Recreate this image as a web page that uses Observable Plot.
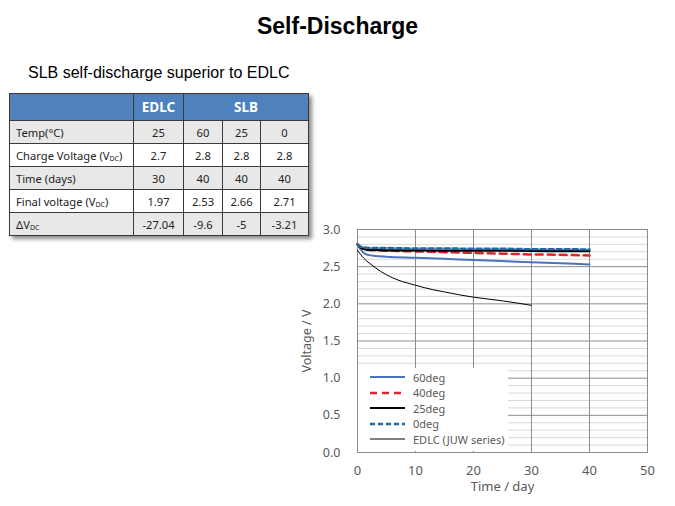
<!DOCTYPE html>
<html>
<head>
<meta charset="utf-8">
<script src="https://cdn.jsdelivr.net/npm/d3@7"></script>
<script src="https://cdn.jsdelivr.net/npm/@observablehq/plot@0.6"></script>
<style>
  html, body { margin: 0; padding: 0; background: #fff; }
  #slide { position: relative; width: 675px; height: 506px; overflow: hidden; font-family: "Liberation Sans", Arial, sans-serif; }
  #title { position: absolute; left: 0; width: 675px; top: 13px; text-align: center; font-weight: bold; font-size: 23px; color: #000; }
  #subtitle { position: absolute; left: 28px; top: 64px; font-size: 16px; color: #000; }
  #tbl { position: absolute; left: 9px; top: 93px; border-collapse: collapse; font-family: "Noto Sans", sans-serif; font-size: 11.2px; color: #222; box-shadow: 3px 3px 4px rgba(0,0,0,0.45); }
  #tbl td, #tbl th { border: 1px solid #3a3a3a; padding: 0; }
  #tbl th { background: #4f81bd; color: #fff; font-weight: bold; font-size: 13.5px; height: 26px; }
  #tbl td { height: 22px; text-align: center; }
  #tbl td.lbl { text-align: left; padding-left: 6px; }
  #tbl tr.g td { background: #e8e8e8; }
  #tbl tr.w td { background: #fff; }
  #tbl sub { font-size: 7px; vertical-align: -1px; }
  #chart { position: absolute; left: 290px; top: 215px; }
  #legend { position: absolute; left: 358px; top: 368px; width: 150px; height: 83px; background: #fff; font-family: "Noto Sans", sans-serif; font-size: 11px; color: #595959; }
  .li { position: absolute; left: 0; height: 14px; display: flex; align-items: center; }
  .li svg { margin-left: 12px; margin-right: 8px; }
</style>
</head>
<body>
<div id="slide">
  <div id="title">Self-Discharge</div>
  <div id="subtitle">SLB self-discharge superior to EDLC</div>
  <table id="tbl"></table>
  <div id="chart"></div>
  <div id="legend"></div>
</div>
<script>
// ---- table data ----
const tableGroups = [["", 1], ["EDLC", 1], ["SLB", 3]];
const rowLabels = ["Temp(°C)", "Charge Voltage (V<sub>DC</sub>)", "Time (days)", "Final voltage (V<sub>DC</sub>)", "ΔV<sub>DC</sub>"];
const rowValues = [
  ["25", "60", "25", "0"],
  ["2.7", "2.8", "2.8", "2.8"],
  ["30", "40", "40", "40"],
  ["1.97", "2.53", "2.66", "2.71"],
  ["-27.04", "-9.6", "-5", "-3.21"]
];
const colWidths = [124, 50, 39, 38, 48];

// ---- chart data ----
const tSLB = [0, 0.5, 1, 1.5, 2, 3, 5, 10, 15, 20, 25, 30, 35, 40];
const v60 = [2.80, 2.74, 2.69, 2.665, 2.655, 2.645, 2.635, 2.62, 2.605, 2.59, 2.575, 2.56, 2.545, 2.53];
const v40 = [2.80, 2.76, 2.74, 2.73, 2.725, 2.72, 2.715, 2.705, 2.695, 2.685, 2.675, 2.665, 2.66, 2.65];
const v25 = [2.80, 2.76, 2.74, 2.73, 2.725, 2.725, 2.72, 2.72, 2.715, 2.715, 2.715, 2.712, 2.71, 2.71];
const v0 = [2.80, 2.77, 2.76, 2.755, 2.75, 2.75, 2.75, 2.745, 2.745, 2.74, 2.74, 2.735, 2.735, 2.73];
const tEDLC = [0, 1, 2, 3, 5, 7, 10, 13, 15, 18, 20, 25, 30];
const vEDLC = [2.72, 2.62, 2.55, 2.49, 2.39, 2.32, 2.25, 2.19, 2.16, 2.115, 2.09, 2.04, 1.98];

const seriesNames = ["60deg", "40deg", "25deg", "0deg", "EDLC (JUW series)"];
const xTicks = [0, 10, 20, 30, 40, 50];
const yMajor = [0, 0.5, 1.0, 1.5, 2.0, 2.5, 3.0];
const yMinor = [0.1, 0.2, 0.3, 0.4, 0.6, 0.7, 0.8, 0.9, 1.1, 1.2, 1.3, 1.4, 1.6, 1.7, 1.8, 1.9, 2.1, 2.2, 2.3, 2.4, 2.6, 2.7, 2.8, 2.9];

const styles = {
  "60deg": {stroke: "#4a72bd", width: 2, dash: null},
  "40deg": {stroke: "#d62a2a", width: 2.5, dash: "7,5"},
  "25deg": {stroke: "#000000", width: 2.2, dash: null},
  "0deg": {stroke: "#1f6aa5", width: 2.5, dash: "5,3"},
  "EDLC (JUW series)": {stroke: "#000000", width: 1, dash: null}
};

// build table
const tbl = document.getElementById("tbl");
let html = "<colgroup>" + colWidths.map(w => `<col style="width:${w}px">`).join("") + "</colgroup>";
html += "<tr>" + tableGroups.map(([n, s]) => `<th colspan="${s}">${n}</th>`).join("") + "</tr>";
rowLabels.forEach((lab, i) => {
  html += `<tr class="${i % 2 === 0 ? "g" : "w"}"><td class="lbl">${lab}</td>` + rowValues[i].map(v => `<td>${v}</td>`).join("") + "</tr>";
});
tbl.innerHTML = html;

// build chart
const rows = [];
const addSeries = (name, ts, vs) => ts.forEach((t, i) => rows.push({series: name, t, v: vs[i]}));
addSeries("60deg", tSLB, v60);
addSeries("40deg", tSLB, v40);
addSeries("25deg", tSLB, v25);
addSeries("0deg", tSLB, v0);
addSeries("EDLC (JUW series)", tEDLC, vEDLC);

const lineMarks = seriesNames.map(name => Plot.line(rows.filter(d => d.series === name), {
  x: "t", y: "v", stroke: styles[name].stroke, strokeWidth: styles[name].width,
  strokeDasharray: styles[name].dash, curve: "monotone-x"
}));

const chart = Plot.plot({
  width: 375, height: 290,
  marginLeft: 67, marginRight: 18, marginTop: 14, marginBottom: 53,
  style: {fontFamily: "Noto Sans, sans-serif", fontSize: "12.5px", color: "#595959", background: "transparent"},
  x: {domain: [0, 50]},
  y: {domain: [0, 3]},
  marks: [
    Plot.ruleY(yMinor, {stroke: "#d9d9d9", strokeWidth: 1}),
    Plot.ruleY(yMajor, {stroke: "#8c8c8c", strokeWidth: 1}),
    Plot.ruleX(xTicks, {stroke: "#8c8c8c", strokeWidth: 1}),
    Plot.frame({stroke: "#8c8c8c"}),
    Plot.axisX({ticks: xTicks, tickSize: 0, tickPadding: 13, label: "Time / day", labelAnchor: "center", labelArrow: "none", labelOffset: 38, fontSize: 13}),
    Plot.axisY({ticks: yMajor, tickFormat: d3.format(".1f"), tickSize: 0, tickPadding: 17, label: "Voltage / V", labelAnchor: "center", labelArrow: "none", labelOffset: 55, fontSize: 12.5}),
    ...lineMarks
  ]
});
document.getElementById("chart").appendChild(chart);

// legend
const legend = document.getElementById("legend");
seriesNames.forEach((name, i) => {
  const s = styles[name];
  const div = document.createElement("div");
  div.className = "li";
  div.style.top = (2 + i * 15.5) + "px";
  div.innerHTML = `<svg width="35" height="6"><line x1="0" x2="35" y1="3" y2="3" stroke="${s.stroke}" stroke-width="${s.width}" ${s.dash ? `stroke-dasharray="${s.dash}"` : ""}/></svg><span>${name}</span>`;
  legend.appendChild(div);
});
</script>
</body>
</html>
